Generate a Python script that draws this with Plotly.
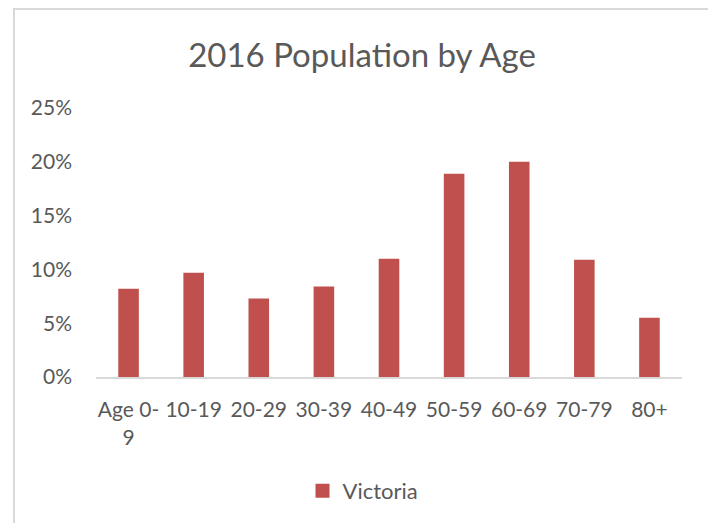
import plotly.graph_objects as go

# data
age_groups = ["Age 0-<br>9", "10-19", "20-29", "30-39", "40-49",
              "50-59", "60-69", "70-79", "80+"]
victoria_share = [0.082, 0.097, 0.073, 0.084, 0.110, 0.189, 0.200, 0.109, 0.055]
y_ticks = [0, 0.05, 0.10, 0.15, 0.20, 0.25]

W, H = 716, 523
# the page adds an 8px body margin, so everything is laid out 8px up/left
margin = dict(l=88, r=42, t=100, b=154)
text_grey = "#595959"
bar_red = "#C0504D"
font_name = "Lato"

fig = go.Figure()
fig.add_trace(go.Bar(
    x=age_groups,
    y=victoria_share,
    name="Victoria",
    showlegend=False,
    marker=dict(color=bar_red, line=dict(width=0)),
))
# legend entry with a bigger square swatch, like Excel's
fig.add_trace(go.Scatter(
    x=[None], y=[None], mode="markers", name="Victoria",
    marker=dict(symbol="square", size=14, color=bar_red),
))

# light grey frame round the whole chart (Excel chart area border)
plot_w = W - margin["l"] - margin["r"]
plot_h = H - margin["t"] - margin["b"]
fx0 = (6 - margin["l"]) / plot_w
fx1 = (702 - margin["l"]) / plot_w
fy1 = (H - margin["b"] - 1) / plot_h
fy0 = (H - margin["b"] - 540) / plot_h
fig.add_shape(type="rect", xref="paper", yref="paper",
              x0=fx0, x1=fx1, y0=fy0, y1=fy1,
              line=dict(color="#D9D9D9", width=2), layer="below")

fig.update_layout(
    width=W, height=H,
    margin=margin,
    paper_bgcolor="white",
    plot_bgcolor="white",
    font=dict(family=font_name, color=text_grey, size=21),
    title=dict(text="2016 Population by Age", xref="container", x=354 / W,
               xanchor="center", y=1 - 47 / H, yanchor="middle",
               font=dict(size=33, color=text_grey)),
    bargap=0.684,
    showlegend=True,
    legend=dict(orientation="h", xref="container", x=355 / W, xanchor="center",
                yref="container", y=1 - 483 / H, yanchor="middle",
                font=dict(size=22, color=text_grey)),
)
fig.update_xaxes(showgrid=False, showline=True, linecolor="#D9D9D9", linewidth=2,
                 ticks="", ticklabelstandoff=13, tickangle=0)
fig.update_yaxes(range=[0, 0.25], tickvals=y_ticks, tickformat=".0%",
                 showgrid=False, zeroline=False, showline=False,
                 ticks="", ticklabelstandoff=23)

fig.write_html("out.html")
